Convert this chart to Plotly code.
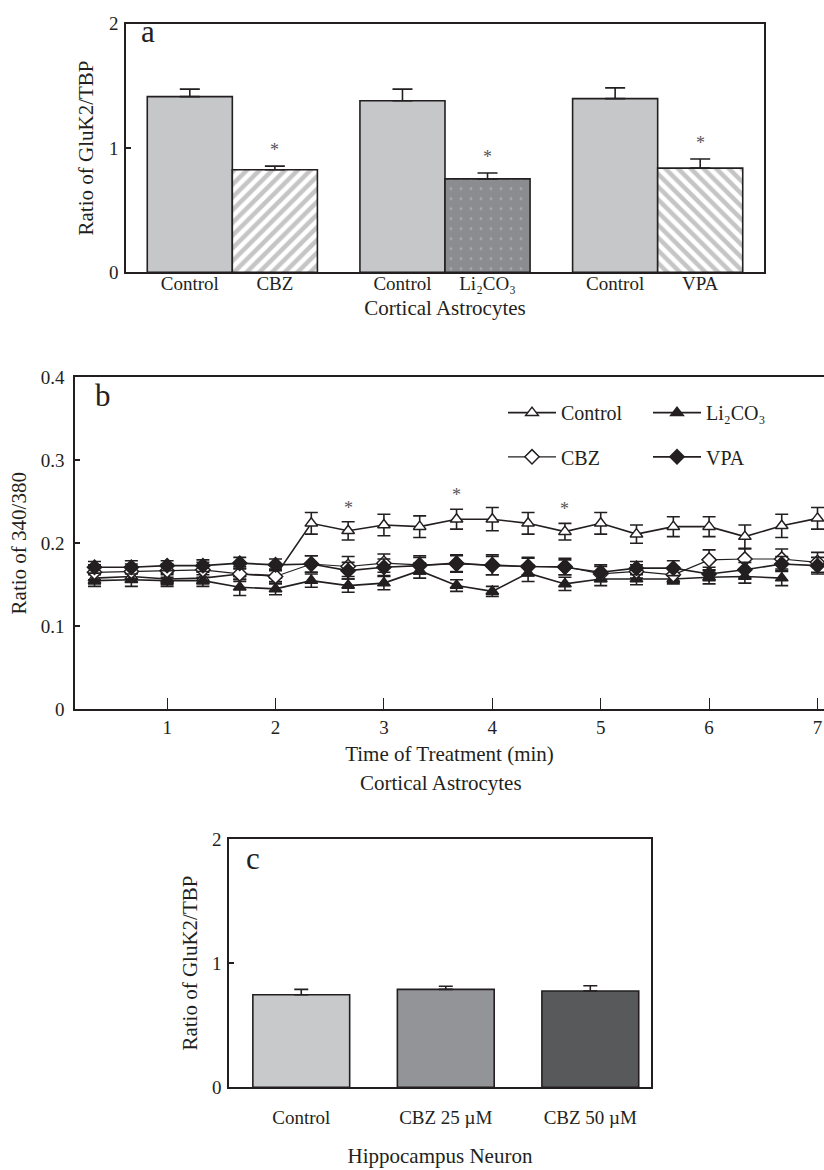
import plotly.graph_objects as go

W, H = 824, 1170
FONT = "Liberation Serif"
INK = "#231f20"

# ---------------- Panel a data ----------------
a_labels = ["Control", "CBZ", "Control", "Li₂CO₃", "Control", "VPA"]
a_pos = [0.75, 1.75, 3.25, 4.25, 5.75, 6.75]
a_values = [1.413, 0.825, 1.380, 0.751, 1.397, 0.838]
a_errors = [0.061, 0.029, 0.094, 0.047, 0.087, 0.073]
a_signif = [False, True, False, True, False, True]

# ---------------- Panel b data ----------------
b_time = [0.33, 0.67, 1.0, 1.33, 1.67, 2.0, 2.33, 2.67, 3.0, 3.33, 3.67,
          4.0, 4.33, 4.67, 5.0, 5.33, 5.67, 6.0, 6.33, 6.67, 7.0]
b_control = [0.158, 0.160, 0.157, 0.158, 0.163, 0.161, 0.224, 0.215, 0.222, 0.220, 0.229,
             0.229, 0.224, 0.214, 0.224, 0.211, 0.220, 0.220, 0.208, 0.221, 0.230]
b_control_err = [0.007, 0.007, 0.007, 0.007, 0.007, 0.007, 0.013, 0.011, 0.013, 0.013, 0.012,
                 0.014, 0.013, 0.010, 0.013, 0.011, 0.012, 0.012, 0.014, 0.014, 0.013]
b_li = [0.155, 0.156, 0.155, 0.155, 0.147, 0.145, 0.155, 0.149, 0.152, 0.167, 0.149,
        0.142, 0.164, 0.151, 0.157, 0.157, 0.157, 0.159, 0.160, 0.158]
b_li_err = [0.007, 0.008, 0.007, 0.007, 0.010, 0.007, 0.008, 0.008, 0.008, 0.009, 0.007,
            0.006, 0.010, 0.008, 0.008, 0.007, 0.006, 0.008, 0.008, 0.009]
b_cbz = [0.165, 0.166, 0.167, 0.168, 0.163, 0.160, 0.175, 0.172, 0.176, 0.174, 0.175,
         0.174, 0.172, 0.172, 0.163, 0.166, 0.162, 0.180, 0.181, 0.181, 0.177]
b_cbz_err = [0.009, 0.009, 0.008, 0.009, 0.009, 0.009, 0.010, 0.012, 0.011, 0.011, 0.010,
             0.012, 0.011, 0.010, 0.009, 0.008, 0.009, 0.012, 0.012, 0.012, 0.012]
b_vpa = [0.171, 0.171, 0.173, 0.173, 0.176, 0.174, 0.175, 0.167, 0.171, 0.173, 0.176,
         0.173, 0.172, 0.171, 0.165, 0.170, 0.170, 0.163, 0.168, 0.175, 0.173]
b_vpa_err = [0.007, 0.008, 0.006, 0.007, 0.007, 0.007, 0.010, 0.010, 0.010, 0.010, 0.010,
             0.011, 0.010, 0.009, 0.009, 0.008, 0.009, 0.008, 0.009, 0.009, 0.010]
b_signif_time = [2.67, 3.67, 4.67]

# ---------------- Panel c data ----------------
c_labels = ["Control", "CBZ 25 µM", "CBZ 50 µM"]
c_values = [0.745, 0.788, 0.775]
c_errors = [0.043, 0.026, 0.042]
c_colors = ["#c8c9cb", "#939497", "#58595b"]


def px_x(p):
    return p / W


def px_y(p):
    return 1 - p / H


fig = go.Figure()

# ---- panel a bars ----
ctrl_idx = [i for i, s in enumerate(a_signif) if not s]
fig.add_trace(go.Bar(
    x=[a_pos[i] for i in ctrl_idx], y=[a_values[i] for i in ctrl_idx], width=1.0,
    marker=dict(color="#c6c7c9", line=dict(color=INK, width=1.6)),
    error_y=dict(type="data", array=[a_errors[i] for i in ctrl_idx], arrayminus=[0] * 3,
                 symmetric=False, color=INK, thickness=1.6, width=10),
    xaxis="x", yaxis="y", showlegend=False))
patterns = {1: dict(shape="/", fgcolor="#8c8c8e", bgcolor="#ffffff", size=9, solidity=0.5),
            3: dict(shape=".", fgcolor="#c4c4c6", bgcolor="#8b8c8f", size=10, solidity=0.06),
            5: dict(shape="\\", fgcolor="#8c8c8e", bgcolor="#ffffff", size=9, solidity=0.5)}
for i, pat in patterns.items():
    fig.add_trace(go.Bar(
        x=[a_pos[i]], y=[a_values[i]], width=1.0,
        marker=dict(color=pat["bgcolor"], pattern=pat, line=dict(color=INK, width=1.6)),
        error_y=dict(type="data", array=[a_errors[i]], arrayminus=[0], symmetric=False,
                     color=INK, thickness=1.6, width=10),
        xaxis="x", yaxis="y", showlegend=False))

# ---- panel b lines ----
series = [
    ("Control", b_control, b_control_err, "triangle-up", "white", 1.6, "legend"),
    ("Li₂CO₃", b_li, b_li_err, "triangle-up", INK, 1.6, "legend2"),
    ("CBZ", b_cbz, b_cbz_err, "diamond", "white", 1.2, "legend3"),
    ("VPA", b_vpa, b_vpa_err, "diamond", INK, 1.6, "legend4"),
]
for name, vals, errs, sym, fill, lw, leg in series:
    fig.add_trace(go.Scatter(
        x=b_time[:len(vals)], y=vals, name=name, mode="lines+markers",
        line=dict(color=INK, width=lw),
        marker=dict(symbol=sym, size=11, color=fill, line=dict(color=INK, width=1.5)),
        error_y=dict(type="data", array=errs, color=INK, thickness=1.6, width=6.5),
        xaxis="x2", yaxis="y2", legend=leg, showlegend=True))

# ---- panel c bars ----
fig.add_trace(go.Bar(
    x=[0, 1, 2], y=c_values, width=0.67,
    marker=dict(color=c_colors, line=dict(color=INK, width=1.6)),
    error_y=dict(type="data", array=c_errors, arrayminus=[0] * 3, symmetric=False,
                 color=INK, thickness=1.6, width=7),
    xaxis="x3", yaxis="y3", showlegend=False))

tickfont = dict(family=FONT, size=19, color=INK)
titlefont = dict(family=FONT, size=21, color=INK)
axis_line = dict(showline=True, linecolor=INK, linewidth=1.6, showgrid=False, zeroline=False)

annotations = []


def ann(text, x, y, size=21, angle=0, **kw):
    d = dict(text=text, x=px_x(x), y=px_y(y), xref="paper", yref="paper", showarrow=False,
             xanchor="center", yanchor="middle", textangle=angle,
             font=dict(family=FONT, size=size, color=INK))
    d.update(kw)
    annotations.append(d)


# panel a texts
ann("a", 148, 22, size=31)
for i, s in enumerate(a_signif):
    if s:
        annotations.append(dict(text="*", x=a_pos[i], y=a_values[i] + a_errors[i], xref="x", yref="y",
                                showarrow=False, yanchor="bottom", yshift=4,
                                font=dict(family=FONT, size=18, color="#555555")))
# panel b texts
ann("b", 103, 393, size=31)
ann("Cortical Astrocytes", 441, 787)
for t in b_signif_time:
    k = b_time.index(t)
    annotations.append(dict(text="*", x=t, y=b_control[k] + b_control_err[k], xref="x2", yref="y2",
                            showarrow=False, yanchor="bottom", yshift=2,
                            font=dict(family=FONT, size=18, color="#555555")))
# panel c texts
ann("c", 253, 864, size=31)

legend_base = dict(font=dict(family=FONT, size=20, color=INK), bgcolor="rgba(0,0,0,0)",
                   borderwidth=0, itemwidth=48, xanchor="left", yanchor="middle",
                   orientation="v", itemclick=False)

fig.update_layout(
    width=W, height=H, margin=dict(l=0, r=0, t=0, b=0),
    paper_bgcolor="white", plot_bgcolor="white",
    font=dict(family=FONT, color=INK),
    barmode="overlay",
    annotations=annotations,
    # panel a
    xaxis=dict(domain=[px_x(126), px_x(764)], range=[0, 7.5], anchor="y",
               tickvals=a_pos, ticktext=a_labels, ticks="", tickfont=tickfont,
               ticklabelstandoff=-7, mirror=True,
               title=dict(text="Cortical Astrocytes", font=titlefont, standoff=7), **axis_line),
    yaxis=dict(domain=[px_y(267), px_y(14)], range=[0, 2], anchor="x",
               tickvals=[0, 1, 2], ticks="inside", ticklen=5, tickwidth=1.5, tickcolor=INK,
               tickfont=tickfont, ticklabelstandoff=2, mirror=True,
               title=dict(text="Ratio of GluK2/TBP", font=titlefont, standoff=10), **axis_line),
    # panel b
    xaxis2=dict(domain=[px_x(75), 1.0], range=[0.15, 7.06], anchor="y2",
                tickvals=[1, 2, 3, 4, 5, 6, 7], ticks="inside", ticklen=11, tickwidth=1.3,
                tickcolor=INK, tickfont=tickfont, mirror=True,
                title=dict(text="Time of Treatment (min)", font=titlefont, standoff=9), **axis_line),
    yaxis2=dict(domain=[px_y(712), px_y(374)], range=[0, 0.4], anchor="x2",
                tickvals=[0, 0.1, 0.2, 0.3, 0.4], ticktext=["0", "0.1", "0.2", "0.3", "0.4"],
                ticks="inside", ticklen=5, tickwidth=1.5, tickcolor=INK,
                tickfont=tickfont, ticklabelstandoff=5, mirror=False,
                title=dict(text="Ratio of 340/380", font=titlefont, standoff=8), **axis_line),
    # panel c
    xaxis3=dict(domain=[px_x(229), px_x(651)], range=[-0.5, 2.42], anchor="y3",
                tickvals=[0, 1, 2], ticktext=c_labels, ticks="", tickfont=tickfont,
                ticklabelstandoff=12, mirror=True,
                title=dict(text="Hippocampus Neuron", font=titlefont, standoff=21), **axis_line),
    yaxis3=dict(domain=[px_y(1097), px_y(844)], range=[0, 2], anchor="x3",
                tickvals=[0, 1, 2], ticks="inside", ticklen=5, tickwidth=1.5, tickcolor=INK,
                tickfont=tickfont, ticklabelstandoff=2, mirror=True,
                title=dict(text="Ratio of GluK2/TBP", font=titlefont, standoff=9), **axis_line),
    legend=dict(legend_base, x=px_x(503), y=px_y(410)),
    legend2=dict(legend_base, x=px_x(648), y=px_y(410)),
    legend3=dict(legend_base, x=px_x(503), y=px_y(455)),
    legend4=dict(legend_base, x=px_x(648), y=px_y(455)),
)

fig.write_html("out.html")
